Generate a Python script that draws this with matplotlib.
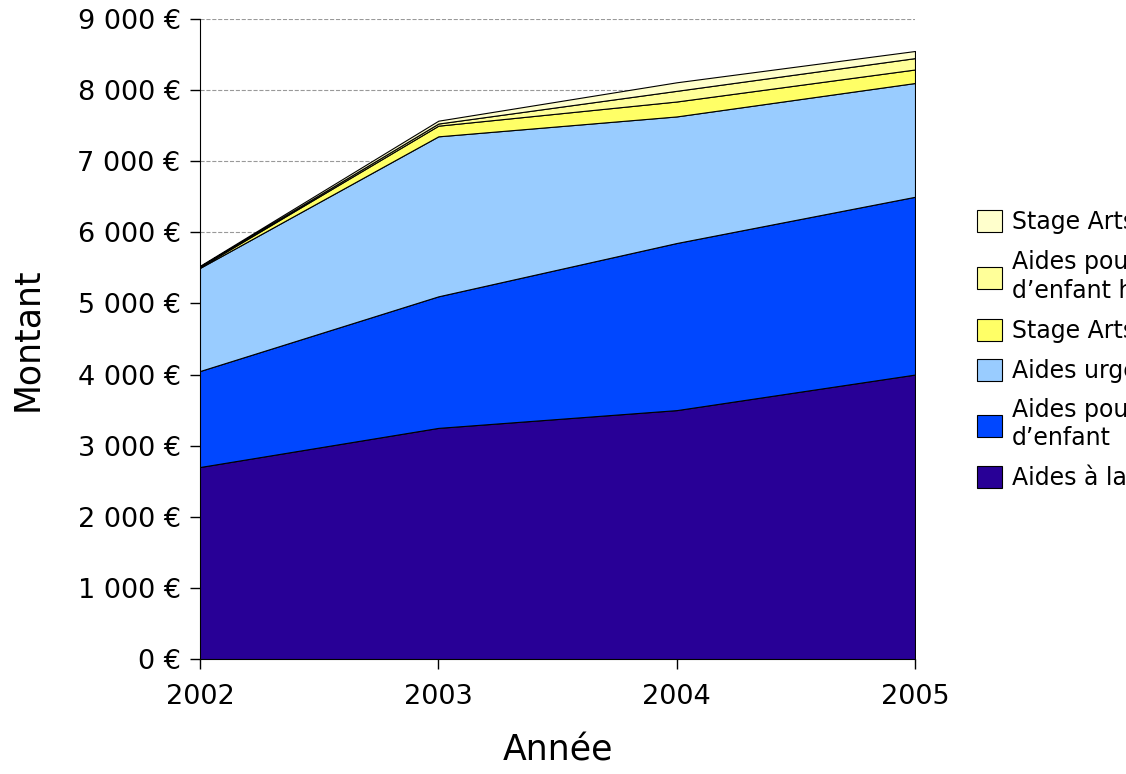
import numpy as np
import matplotlib.pyplot as plt
from matplotlib.ticker import FuncFormatter

years = [2002, 2003, 2004, 2005]

# bottom layer first
labels = [
    "Aides à la scolarité",
    "Aides pour garde\nd\u2019enfant",
    "Aides urgence",
    "Stage Arts du cirque",
    "Aides pour garde\nd\u2019enfant handicapé",
    "Stage Arts plastiques",
]
aides_scolarite = [2700, 3250, 3500, 4000]
aides_garde = [1350, 1850, 2350, 2500]
aides_urgence = [1450, 2250, 1780, 1600]
stage_cirque = [10, 150, 210, 190]
aides_handicap = [10, 30, 150, 160]
stage_plastiques = [10, 40, 120, 100]

colors = ["#280096", "#0047FF", "#99CCFF", "#FFFF66", "#FFFF99", "#FFFFCC"]

plt.rcParams['font.family'] = ['DejaVu Sans']

fig = plt.figure(figsize=(11.26, 7.74), dpi=100)
ax = fig.add_axes([200 / 1126, 1 - 659 / 774, 715 / 1126, 640 / 774])

series = [aides_scolarite, aides_garde, aides_urgence,
          stage_cirque, aides_handicap, stage_plastiques]
ax.stackplot(years, *series, colors=colors, labels=labels,
             edgecolor='black', linewidth=0.8, zorder=3)

ax.set_xlim(2002, 2005)
ax.set_ylim(0, 9000)
ax.set_xticks(years)
ax.set_yticks(np.arange(0, 9001, 1000))
ax.yaxis.set_major_formatter(
    FuncFormatter(lambda v, p: f"{v:,.0f} €".replace(",", " ")))
ax.tick_params(axis='both', labelsize=19.5, length=7, width=1)
ax.tick_params(axis='y', pad=7)
ax.tick_params(axis='x', pad=11)

ax.grid(axis='y', color='#999999', linestyle='--', linewidth=0.8, zorder=0)
ax.set_axisbelow(True)
for s in ['top', 'right']:
    ax.spines[s].set_visible(False)

ax.set_xlabel("Année", fontsize=25, labelpad=17)
ax.set_ylabel("Montant", fontsize=25, labelpad=24)

handles, labs = ax.get_legend_handles_labels()
fig.legend(handles[::-1], labs[::-1], loc='center left',
           bbox_to_anchor=(956 / 1126, 1 - 350 / 774), frameon=False,
           fontsize=17, handlelength=1.06, handleheight=1.06,
           handletextpad=0.42, labelspacing=0.66)

fig.savefig("out.png", dpi=100)
